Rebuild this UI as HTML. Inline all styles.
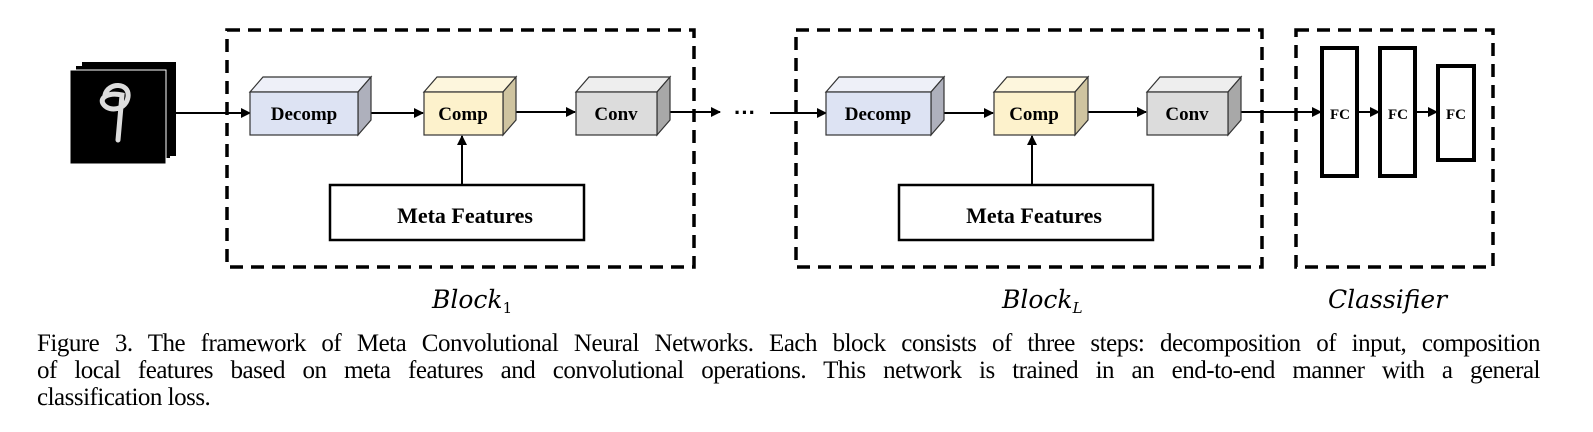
<!DOCTYPE html>
<html><head><meta charset="utf-8"><style>
body{margin:0;background:#fff;width:1593px;height:432px;overflow:hidden;position:relative}
.cap{position:absolute;left:37px;top:330px;width:1503px;font-family:"Liberation Serif",serif;font-size:25px;letter-spacing:-0.5px;line-height:27px;color:#000}
.j{display:block;text-align:justify;text-align-last:justify;white-space:nowrap}
.l{display:block}
</style></head><body>
<svg width="1593" height="330" style="position:absolute;left:0;top:0" font-family="Liberation Serif,serif">
<defs><marker id="a" markerWidth="10" markerHeight="10" refX="9" refY="5" orient="auto" markerUnits="userSpaceOnUse"><path d="M0,0L10,5L0,10z"/></marker></defs>
<g fill="none" stroke="#000" stroke-width="3.5" stroke-dasharray="13,8">
<rect x="227" y="30" width="467" height="237"/>
<rect x="796" y="30" width="466" height="237"/>
<rect x="1296" y="30" width="197" height="237"/>
</g>
<rect x="82" y="62" width="94" height="94" fill="#000"/>
<rect x="76" y="66" width="94" height="92" fill="#000"/>
<rect x="70" y="70" width="96" height="94" fill="#000" stroke="#fff" stroke-width="1"/>
<path d="M105,95 C108,82 130,82 128,97 C126,110 110,112 104,105 C98,98 108,92 122,95 L118,140" fill="none" stroke="#ddd" stroke-width="5" stroke-linecap="round"/>
<g stroke="#000" stroke-width="2" fill="none">
<line x1="175" y1="113" x2="250" y2="113" marker-end="url(#a)"/>
<line x1="357" y1="113" x2="423" y2="113" marker-end="url(#a)"/>
<line x1="516" y1="112" x2="575" y2="112" marker-end="url(#a)"/>
<line x1="670" y1="112" x2="720" y2="112" marker-end="url(#a)"/>
<line x1="462" y1="185" x2="462" y2="136" marker-end="url(#a)"/>
<line x1="770" y1="113" x2="826" y2="113" marker-end="url(#a)"/>
<line x1="943" y1="113" x2="993" y2="113" marker-end="url(#a)"/>
<line x1="1087" y1="112" x2="1146" y2="112" marker-end="url(#a)"/>
<line x1="1240" y1="112" x2="1321" y2="112" marker-end="url(#a)"/>
<line x1="1357" y1="112" x2="1379" y2="112" marker-end="url(#a)"/>
<line x1="1415" y1="112" x2="1437" y2="112" marker-end="url(#a)"/>
<line x1="1032" y1="185" x2="1032" y2="136" marker-end="url(#a)"/>
</g>
<text x="745" y="120" font-size="22" font-weight="bold" font-family="Liberation Sans,sans-serif" text-anchor="middle">···</text>
<g stroke="#333" stroke-width="1.2">
<polygon points="250,92 263,77 371,77 358,92" fill="#eef0f8"/><polygon points="358,92 371,77 371,120 358,135" fill="#aeb0bc"/><rect x="250" y="92" width="108" height="43" fill="#dde3f3"/>
<polygon points="424,92 437,77 516,77 503,92" fill="#fdf6dd"/><polygon points="503,92 516,77 516,120 503,135" fill="#cfc4a0"/><rect x="424" y="92" width="79" height="43" fill="#fdf2cc"/>
<polygon points="576,92 589,77 670,77 657,92" fill="#eee"/><polygon points="657,92 670,77 670,120 657,135" fill="#a8a8a8"/><rect x="576" y="92" width="81" height="43" fill="#dcdcdc"/>
<polygon points="826,92 839,77 944,77 931,92" fill="#eef0f8"/><polygon points="931,92 944,77 944,120 931,135" fill="#aeb0bc"/><rect x="826" y="92" width="105" height="43" fill="#dde3f3"/>
<polygon points="994,92 1007,77 1088,77 1075,92" fill="#fdf6dd"/><polygon points="1075,92 1088,77 1088,120 1075,135" fill="#cfc4a0"/><rect x="994" y="92" width="81" height="43" fill="#fdf2cc"/>
<polygon points="1147,92 1160,77 1241,77 1228,92" fill="#eee"/><polygon points="1228,92 1241,77 1241,120 1228,135" fill="#a8a8a8"/><rect x="1147" y="92" width="81" height="43" fill="#dcdcdc"/>
</g>
<g fill="none" stroke="#000" stroke-width="2.5">
<rect x="330" y="185" width="254" height="55"/>
<rect x="899" y="185" width="254" height="55"/>
</g>
<g fill="none" stroke="#000" stroke-width="4">
<rect x="1322" y="48" width="35" height="128"/>
<rect x="1380" y="48" width="35" height="128"/>
<rect x="1438" y="66" width="36" height="94"/>
</g>
<g font-weight="bold" font-size="19" text-anchor="middle">
<text x="304" y="120">Decomp</text><text x="463" y="120">Comp</text><text x="616" y="120">Conv</text>
<text x="878" y="120">Decomp</text><text x="1034" y="120">Comp</text><text x="1187" y="120">Conv</text>
<text x="465" y="223" font-size="22">Meta Features</text><text x="1034" y="223" font-size="22">Meta Features</text>
<text x="1340" y="119" font-size="15">FC</text><text x="1398" y="119" font-size="15">FC</text><text x="1456" y="119" font-size="15">FC</text>
</g>
<g font-style="italic" font-size="25" font-family="DejaVu Serif,serif">
<text x="432" y="308">Block<tspan font-size="15" dy="5" font-style="normal">1</tspan></text>
<text x="1002" y="308">Block<tspan font-size="15" dy="5">L</tspan></text>
<text x="1328" y="308">Classifier</text>
</g>
</svg>
<div class="cap"><span class="j">Figure 3. The framework of Meta Convolutional Neural Networks. Each block consists of three steps: decomposition of input, composition</span><span class="j">of local features based on meta features and convolutional operations.  This network is trained in an end-to-end manner with a general</span><span class="l">classification loss.</span></div>
</body></html>
